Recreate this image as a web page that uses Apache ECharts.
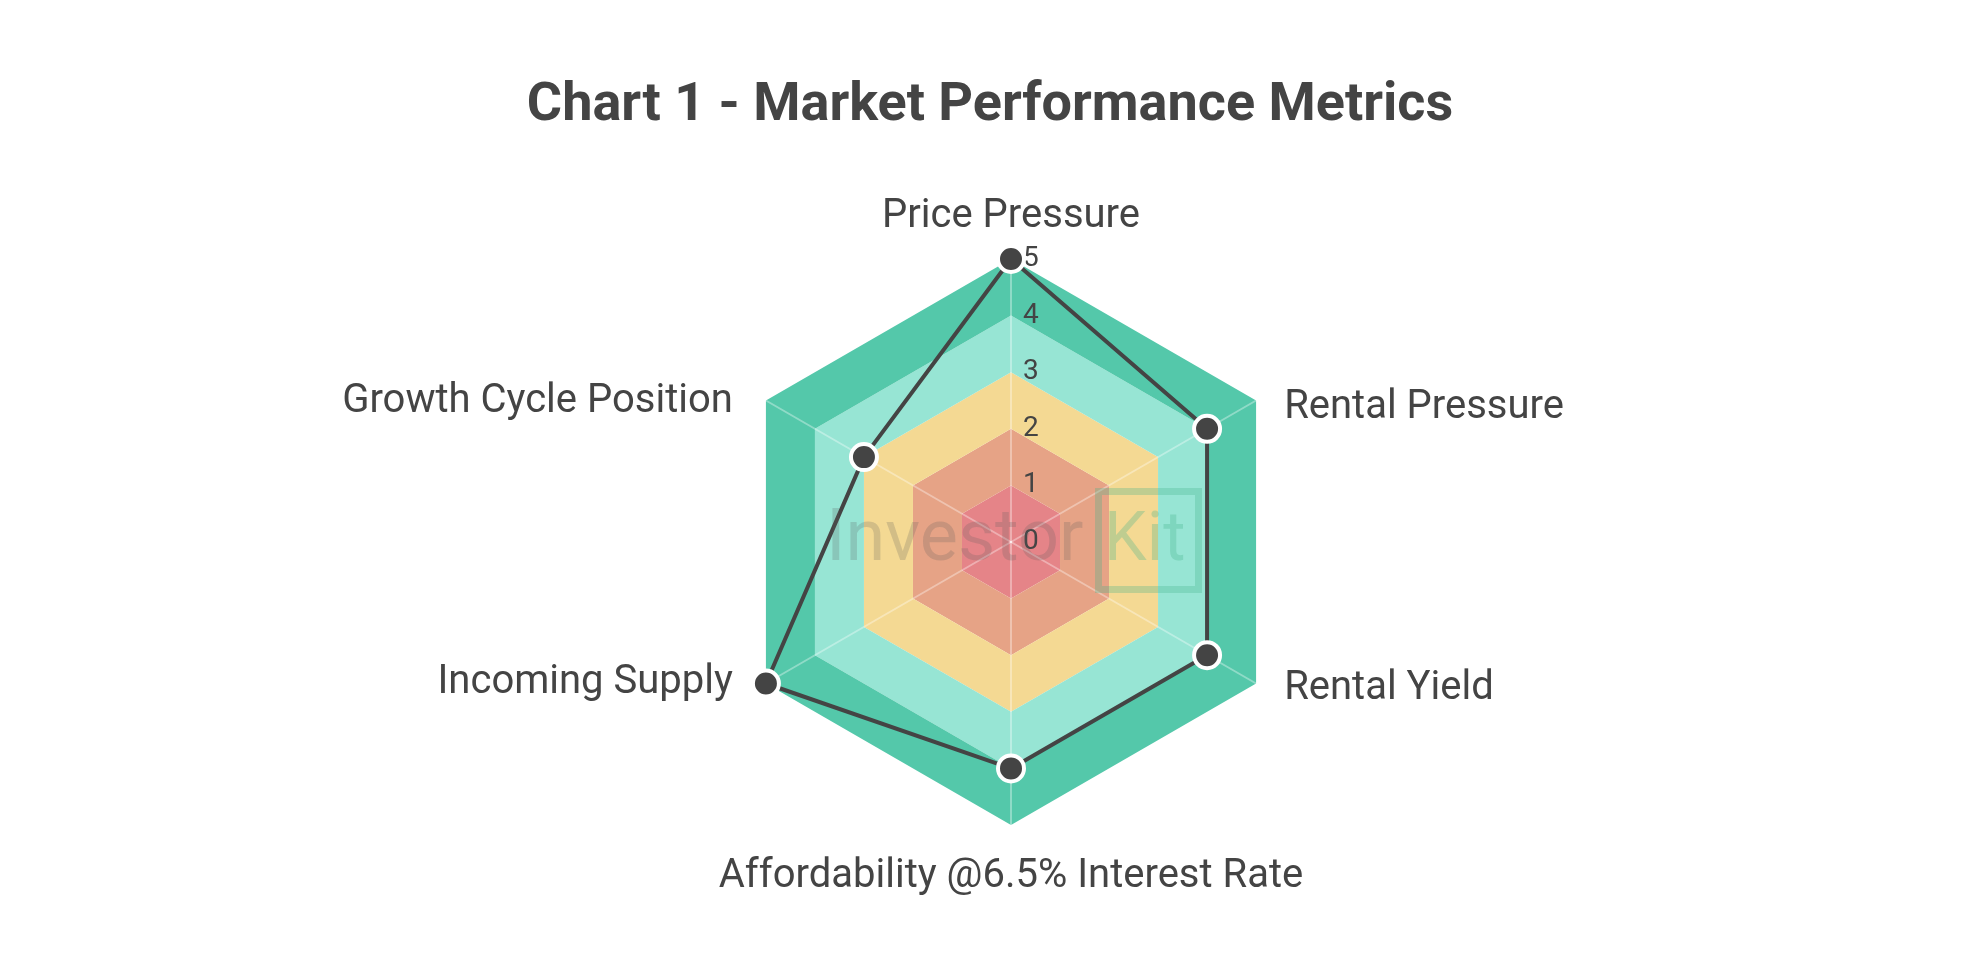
<!DOCTYPE html>
<html>
<head>
<meta charset="utf-8">
<script src="https://cdn.jsdelivr.net/npm/echarts@6/dist/echarts.min.js"></script>
<style>
  html, body { margin: 0; padding: 0; background: #fff; }
  #myChart { width: 1980px; height: 960px; }
</style>
</head>
<body>
<div id="myChart"></div>
<script>
// indicators listed in echarts order (counter-clockwise from the top)
var indicatorNames = ['Price Pressure', 'Growth Cycle Position', 'Incoming Supply',
    'Affordability @6.5% Interest Rate', 'Rental Yield', 'Rental Pressure'];
var scores = [5, 3, 5, 4, 4, 4];
var scoreMax = 5;
// ring colours, inner to outer
var ringColors = ['#e58488', '#e6a386', '#f4d993', '#97e5d4', '#54c8aa'];

var indicators = [];
for (var i = 0; i < indicatorNames.length; i++) {
    var ind = {name: indicatorNames[i], min: 0, max: scoreMax};
    if (i == 0) {
        ind.axisLabel = {show: true}; // scale numbers only on the top axis
    }
    indicators.push(ind);
}

// rich style key per indicator, used to nudge the side labels level with the corners
var nameStyleKeys = ['top', 'ul', 'll', 'bottom', 'lr', 'ur'];

var myChart = echarts.init(document.getElementById("myChart"));
var option = {
    backgroundColor: '#fff',
    title: {
        text: 'Chart 1 - Market Performance Metrics',
        left: 'center',
        top: 74,
        textStyle: {
            fontFamily: 'Roboto',
            fontSize: 54,
            fontWeight: 'bold',
            color: '#444'
        }
    },
    radar: {
        center: [1011, 542],
        radius: 283,
        startAngle: 90,
        splitNumber: 5,
        shape: 'polygon',
        nameGap: 22,
        axisName: {
            fontFamily: 'Roboto',
            fontSize: 40,
            color: '#444',
            formatter: function (name) {
                var k = nameStyleKeys[indicatorNames.indexOf(name)];
                return '{' + k + '|' + name + '}';
            },
            rich: {
                top: {fontFamily: 'Roboto', fontSize: 40, color: '#444'},
                bottom: {fontFamily: 'Roboto', fontSize: 40, color: '#444', padding: [10, 0, 0, 0]},
                ur: {fontFamily: 'Roboto', fontSize: 40, color: '#444', padding: [36, 0, 0, 9]},
                ul: {fontFamily: 'Roboto', fontSize: 40, color: '#444', padding: [24, 14, 0, 0]},
                lr: {fontFamily: 'Roboto', fontSize: 40, color: '#444', padding: [0, 0, 12, 9]},
                ll: {fontFamily: 'Roboto', fontSize: 40, color: '#444', padding: [0, 14, 24, 0]}
            }
        },
        axisLine: {
            lineStyle: {color: 'rgba(255,255,255,0.35)', width: 2}
        },
        splitLine: {show: false},
        splitArea: {
            show: true,
            areaStyle: {color: ringColors}
        },
        axisLabel: {
            show: false,
            fontFamily: 'Roboto',
            fontSize: 28,
            color: '#444',
            align: 'left',
            margin: -12
        },
        indicator: indicators
    },
    // faint "Investor Kit" watermark over the middle of the chart
    graphic: [
        {
            type: 'text',
            left: 826,
            top: 506,
            z: 100,
            silent: true,
            style: {
                text: 'Investor',
                fontFamily: 'Roboto',
                fontSize: 72,
                fill: 'rgba(90,90,90,0.22)'
            }
        },
        {
            type: 'text',
            left: 1104,
            top: 509,
            z: 100,
            silent: true,
            style: {
                text: 'Kit',
                fontFamily: 'Roboto',
                fontSize: 68,
                fill: 'rgba(70,180,140,0.3)'
            }
        },
        {
            type: 'rect',
            left: 1095,
            top: 488,
            z: 100,
            silent: true,
            shape: {width: 100, height: 98},
            style: {
                fill: 'none',
                stroke: 'rgba(70,180,140,0.3)',
                lineWidth: 7
            }
        }
    ],
    series: [
        {
            type: 'radar',
            symbol: 'circle',
            symbolSize: 26,
            lineStyle: {color: '#444', width: 4},
            itemStyle: {color: '#444', borderColor: '#fff', borderWidth: 4},
            data: [
                {value: scores, name: 'Score'}
            ]
        }
    ]
};
myChart.setOption(option);
</script>
</body>
</html>
